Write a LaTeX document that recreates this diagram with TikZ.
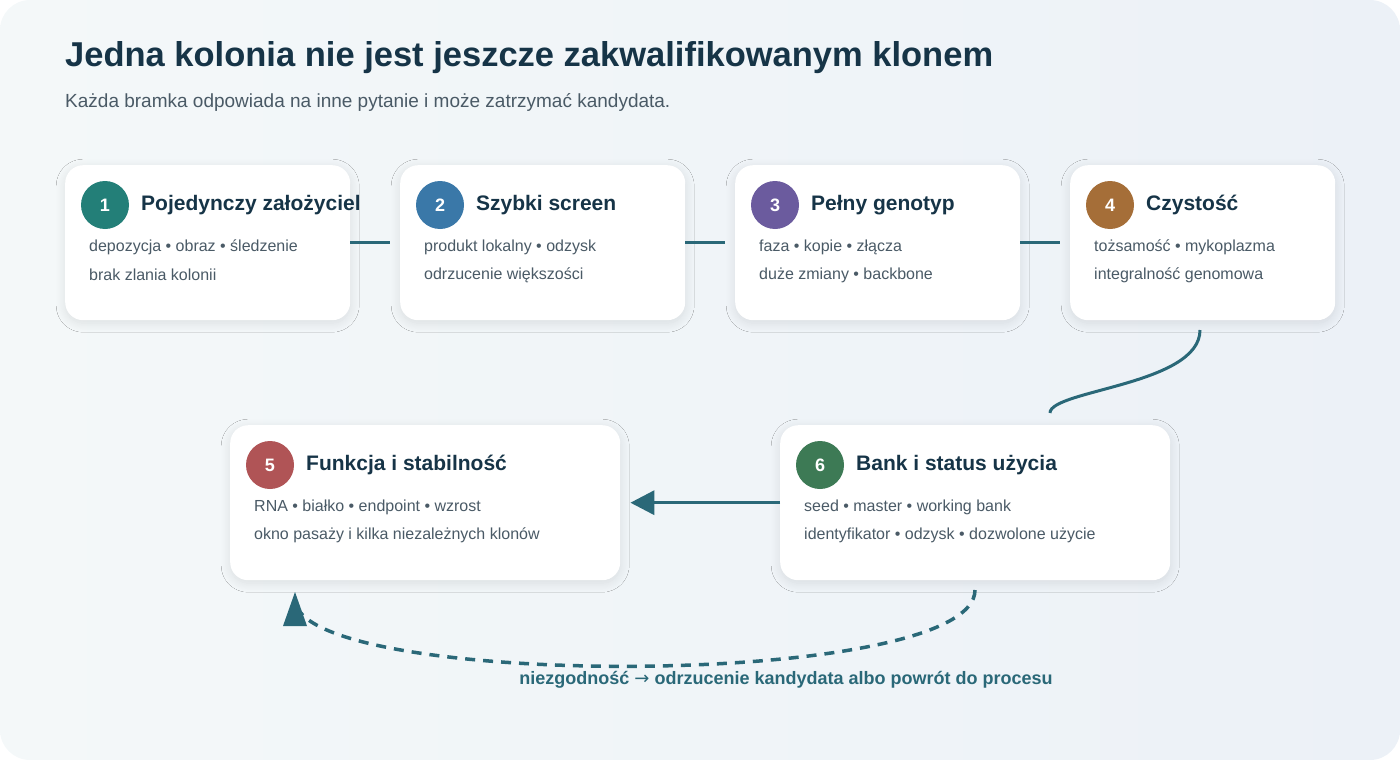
\documentclass[tikz,border=0pt]{standalone}
\usepackage{fontspec}
\setmainfont{Liberation Sans}
\newfontfamily\djv{DejaVu Sans}
\usetikzlibrary{shadows.blur,arrows.meta,calc}
\definecolor{ink}{HTML}{163447}
\definecolor{body}{HTML}{4A5A66}
\definecolor{line}{HTML}{2A6878}
\definecolor{cA}{HTML}{237F78}
\definecolor{cB}{HTML}{3A78A8}
\definecolor{cC}{HTML}{6B5B9E}
\definecolor{cD}{HTML}{A56E38}
\definecolor{cE}{HTML}{B05456}
\definecolor{cF}{HTML}{3D7A55}
\definecolor{bgL}{HTML}{F4F8F9}
\definecolor{bgR}{HTML}{ECF1F7}
\begin{document}
\begin{tikzpicture}[x=1pt,y=-1pt,
 card/.style={draw=none,fill=white,rounded corners=18pt,minimum height=155pt,anchor=north west,inner sep=0pt,
   blur shadow={shadow xshift=0pt,shadow yshift=-3pt,shadow blur radius=9pt,shadow blur steps=12,shadow opacity=10}},
 num/.style={circle,minimum size=48pt,inner sep=0pt,text=white,font=\fontsize{18}{20}\selectfont\bfseries},
 ttl/.style={anchor=west,text=ink,font=\fontsize{21}{24}\selectfont\bfseries,inner sep=0pt},
 txt/.style={anchor=west,text=body,font=\fontsize{16}{19}\selectfont,inner sep=0pt},
 conn/.style={draw=line,line width=3.5pt}]
\useasboundingbox (0,0) rectangle (1400,760);
\shade[left color=bgL, right color=bgR, rounded corners=30pt] (0,0) rectangle (1400,760);
\node[anchor=west,text=ink,font=\fontsize{34.5}{40}\selectfont\bfseries,inner sep=0pt] (title) at (65,58) {Jedna kolonia nie jest jeszcze zakwalifikowanym klonem};
\node[anchor=west,text=body,font=\fontsize{19}{22}\selectfont,inner sep=0pt] (sub) at (65,102) {Każda bramka odpowiada na inne pytanie i może zatrzymać kandydata.};
% cards
\node[card,minimum width=285pt] (c1) at (65,165) {};
\node[card,minimum width=285pt] (c2) at (400,165) {};
\node[card,minimum width=285pt] (c3) at (735,165) {};
\node[card,minimum width=265pt] (c4) at (1070,165) {};
\node[card,minimum width=390pt] (c5) at (230,425) {};
\node[card,minimum width=390pt] (c6) at (780,425) {};
% card contents
\node[num,fill=cA] (n1) at (105,205) {1};
\node[ttl] (t1) at (141,205) {Pojedynczy założyciel};
\node[txt] (a1) at (89,247) {depozycja • obraz • śledzenie};
\node[txt] (b1) at (89,275) {brak zlania kolonii};
\node[num,fill=cB] (n2) at (440,205) {2};
\node[ttl] (t2) at (476,205) {Szybki screen};
\node[txt] (a2) at (424,247) {produkt lokalny • odzysk};
\node[txt] (b2) at (424,275) {odrzucenie większości};
\node[num,fill=cC] (n3) at (775,205) {3};
\node[ttl] (t3) at (811,205) {Pełny genotyp};
\node[txt] (a3) at (759,247) {faza • kopie • złącza};
\node[txt] (b3) at (759,275) {duże zmiany • backbone};
\node[num,fill=cD] (n4) at (1110,205) {4};
\node[ttl] (t4) at (1146,205) {Czystość};
\node[txt] (a4) at (1094,247) {tożsamość • mykoplazma};
\node[txt] (b4) at (1094,275) {integralność genomowa};
\node[num,fill=cE] (n5) at (270,465) {5};
\node[ttl] (t5) at (306,465) {Funkcja i stabilność};
\node[txt] (a5) at (254,507) {RNA • białko • endpoint • wzrost};
\node[txt] (b5) at (254,535) {okno pasaży i kilka niezależnych klonów};
\node[num,fill=cF] (n6) at (820,465) {6};
\node[ttl] (t6) at (856,465) {Bank i status użycia};
\node[txt] (a6) at (804,507) {seed • master • working bank};
\node[txt] (b6) at (804,535) {identyfikator • odzysk • dozwolone użycie};
% connectors
\draw[conn,shorten >=10pt] (c1.east) -- (c2.west);
\draw[conn,shorten >=10pt] (c2.east) -- (c3.west);
\draw[conn,shorten >=10pt] (c3.east) -- (c4.west);
\coordinate (q4) at (1200,330);
\coordinate (q6) at (1050,413);
\draw[draw=line,line width=3pt] (q4) .. controls (1200,385) and (1050,390) .. (q6);
\draw[draw=line,line width=3.5pt,shorten >=10pt,-{Triangle[length=24pt,width=24pt]}] (c6.west) -- (c5.east);
\coordinate (d6) at (975,590);
\coordinate (d5) at (295,590);
\draw[draw=line,line width=3.5pt,dash pattern=on 10pt off 8pt] (d6) .. controls (975,690) and (300,690) .. ($(d5)+(0,10)$);
\fill[line] (283,626) -- (307,626) -- (295,592) -- cycle;
\node[text=line,font=\fontsize{18}{21}\selectfont\bfseries,inner sep=0pt] (lbl) at (786,680) {niezgodność {\djv\mdseries →} odrzucenie kandydata albo powrót do procesu};
\end{tikzpicture}
\end{document}
